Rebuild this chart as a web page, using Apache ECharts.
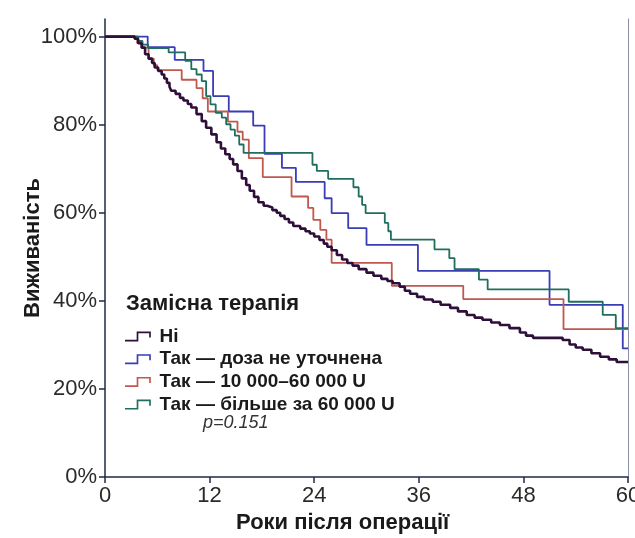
<!DOCTYPE html>
<html><head><meta charset="utf-8">
<script src="https://cdn.jsdelivr.net/npm/echarts@6/dist/echarts.min.js"></script>
<style>html,body{margin:0;padding:0;background:#fff}#c{width:635px;height:538px}</style>
</head><body><div id="c"></div>
<script>
const xTicks = [0, 12, 24, 36, 48, 60];
const yTicks = [0, 20, 40, 60, 80, 100];
const seriesNames = ['Ні', 'Так — доза не уточнена', 'Так — 10 000–60 000 U', 'Так — більше за 60 000 U'];
const legendTitle = 'Замісна терапія';
const pValue = 'p=0.151';
const xTitle = 'Роки після операції';
const yTitle = 'Виживаність';

const survNo = [[0,100],[3.4,99.5],[3.8,98.5],[4.2,97.5],[4.6,96],[5.0,95],[5.4,94],[5.7,93],[6.1,92.2],[6.5,91.4],[6.8,90.5],[7.1,89.5],[7.4,88.6],[7.6,87.7],[8.1,87],[8.6,86.1],[9.0,85.5],[9.5,84.7],[9.9,83.9],[10.5,82.4],[11.1,80.8],[11.6,79.3],[12.2,77.8],[12.8,76],[13.3,74.6],[13.8,73.3],[14.3,72.2],[14.7,71],[15.2,69.5],[15.7,67.8],[16.2,66.3],[16.6,65],[17.1,63.6],[17.6,62.4],[18.2,61.6],[18.6,61.2],[19.2,60.6],[19.7,60],[20.1,59.3],[20.6,58.6],[21.1,57.8],[21.6,57],[22.4,56.4],[23,55.8],[23.5,55.3],[24,54.6],[24.6,53.8],[25.1,53],[25.5,52.3],[26,51.5],[26.6,50.4],[27.2,49.4],[27.8,48.6],[28.4,48],[29.1,47.2],[30,46.4],[30.8,45.7],[31.7,45],[32.4,44.5],[33,44],[33.8,43.2],[34.4,42.3],[35,41.6],[35.8,40.9],[36.6,40.3],[37.6,39.8],[38.5,39.1],[39.6,38.4],[40.5,37.6],[41.5,36.8],[42.4,36.2],[43.3,35.7],[44.3,35.1],[45.3,34.5],[46.4,33.8],[47.6,32.8],[48.3,32.1],[49.1,31.6],[52.5,31.1],[53.3,30.1],[54,29.4],[54.8,28.9],[55.8,28.1],[56.8,27.3],[57.8,26.7],[58.7,26.1],[60,26.1]];
const survBlue = [[0,100],[4.9,97.6],[8.0,94.7],[11.3,92.2],[12.4,86.5],[14.2,83.0],[17.0,79.8],[18.3,73.4],[20.3,70.2],[21.9,67.0],[25.2,63.3],[26.0,59.9],[27.9,56.5],[30.0,52.7],[35.9,46.8],[51.0,39.1],[59.4,29.2],[60,29.2]];
const survRed = [[0,100],[3.7,98.5],[4.3,97.5],[5.0,95],[5.6,93.5],[6.0,92.4],[8.8,90.2],[10.5,88.3],[11.2,86.0],[11.8,83.0],[14.1,80.7],[15.2,78.4],[15.8,76.6],[16.5,72.4],[18.1,68.1],[21.4,63.7],[23.3,61.1],[23.9,58.4],[24.7,56.1],[25.4,53.9],[26.0,48.6],[32.9,43.4],[41.1,40.4],[52.6,33.6],[60,33.6]];
const survGreen = [[0,100],[3.8,99],[4.3,98.2],[4.95,97.4],[7.3,96.4],[9.2,94.5],[9.9,92.6],[10.5,91.4],[11.1,89.9],[11.6,86.5],[12.1,84.6],[12.7,82.7],[13.4,81.6],[13.9,80.1],[14.4,78.9],[14.9,77.5],[15.4,75.5],[15.9,73.6],[23.8,70.9],[24.3,69.5],[25.6,67.7],[28.5,65.8],[29.1,63.7],[29.5,61.8],[29.9,59.9],[32.1,57.7],[32.5,55.8],[32.8,53.9],[37.8,51.7],[39.5,49.7],[40.1,47.2],[42.9,44.8],[43.9,42.6],[53.2,39.8],[57.1,36.8],[58.6,33.8],[60,33.8]];

const colors = ['#2e0f3a', '#3a3db5', '#c0584e', '#1f6e5e'];
const stepIcon = 'path://M0,8.2H11.2V0.2H24.8V6H23.2V1.8H12.8V9.8H0Z';
const font = 'Liberation Sans, Arial, sans-serif';

const chart = echarts.init(document.getElementById('c'), null, {renderer: 'canvas'});

function mk(name, data, color, width, z) {
  return {
    name: name, type: 'line', step: 'end', data: data, showSymbol: false,
    lineStyle: {color: color, width: width}, itemStyle: {color: color},
    z: z, animation: false
  };
}

chart.setOption({
  animation: false,
  backgroundColor: '#fff',
  grid: {left: 105, right: 7, top: 19, bottom: 61, outerBoundsMode: 'none', containLabel: false},
  title: [
    {text: legendTitle, left: 126, top: 293, padding: 0, textStyle: {fontFamily: font, fontSize: 22, fontWeight: 'bold', color: '#1a1a1a'}},
    {text: pValue, left: 203, top: 414, padding: 0, textStyle: {fontFamily: font, fontSize: 18, fontStyle: 'italic', fontWeight: 'normal', color: '#333'}},
    {text: xTitle, left: 236, top: 512, padding: 0, textStyle: {fontFamily: font, fontSize: 22, fontWeight: 'bold', color: '#1a1a1a'}}
  ],
  legend: {
    orient: 'vertical', left: 125, top: 327, padding: 0, itemWidth: 27, itemHeight: 10, itemGap: 3.7,
    icon: stepIcon,
    data: seriesNames,
    textStyle: {fontFamily: font, fontSize: 19, fontWeight: 'bold', color: '#1a1a1a', padding: [0,0,0,3]}
  },
  xAxis: {
    type: 'value', min: 0, max: 60, interval: 12,
    axisLine: {show: true, lineStyle: {color: '#1f2a4a', width: 1.5}},
    axisTick: {show: true, length: 6, lineStyle: {color: '#1f2a4a', width: 1.5}},
    axisLabel: {fontFamily: font, fontSize: 22, color: '#2a2a2a', margin: 8, customValues: xTicks},
    splitLine: {show: false}
  },
  yAxis: [{
    type: 'value', min: 0, max: 104,
    name: yTitle, nameLocation: 'middle', nameGap: 61, nameRotate: 90, nameMoveOverlap: false,
    nameTextStyle: {fontFamily: font, fontSize: 22, fontWeight: 'bold', color: '#1a1a1a'},
    axisLine: {show: true, lineStyle: {color: '#1f2a4a', width: 1.5}},
    axisTick: {show: true, length: 6, lineStyle: {color: '#1f2a4a', width: 1.5}, customValues: yTicks},
    axisLabel: {fontFamily: font, fontSize: 22, color: '#2a2a2a', margin: 8, customValues: yTicks, formatter: v => v + '%'},
    splitLine: {show: false}
  }, {
    type: 'value', min: 0, max: 104, position: 'right',
    axisLine: {show: true, lineStyle: {color: '#8a8fa6', width: 1}},
    axisTick: {show: false}, axisLabel: {show: false}, splitLine: {show: false}
  }],
  series: [
    mk(seriesNames[1], survBlue, colors[1], 1.8, 2),
    mk(seriesNames[2], survRed, colors[2], 1.8, 2),
    mk(seriesNames[3], survGreen, colors[3], 1.8, 2),
    mk(seriesNames[0], survNo, colors[0], 2.6, 3)
  ]
});
</script>
</body></html>
